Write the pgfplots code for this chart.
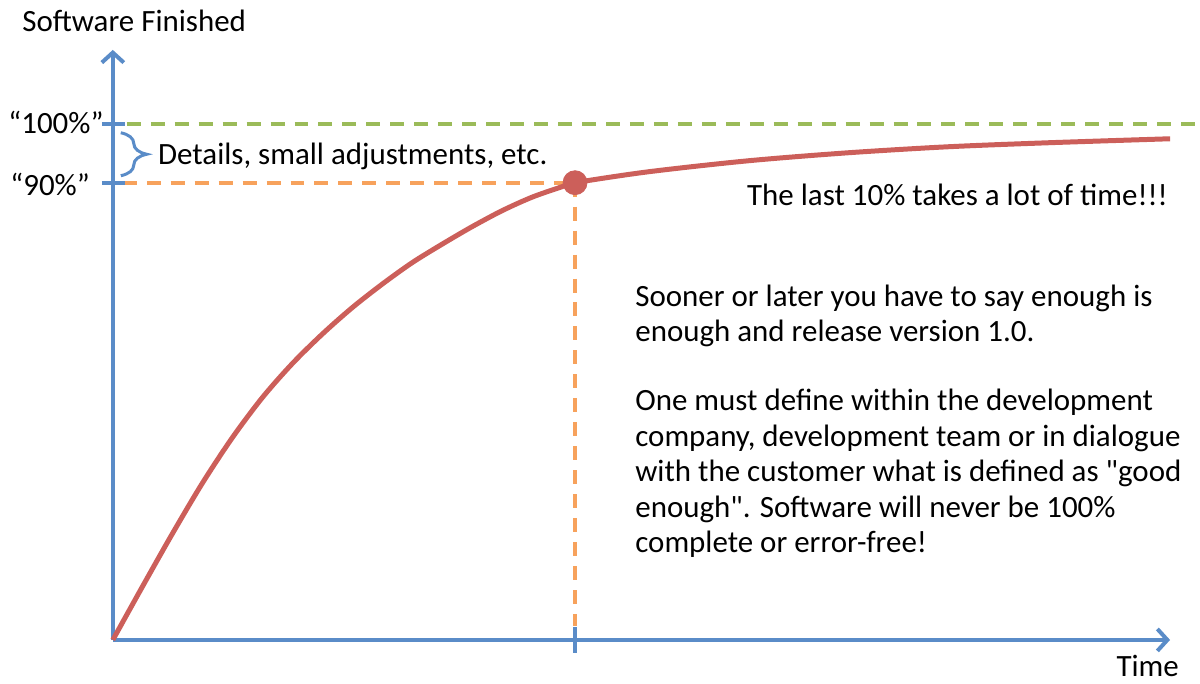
\documentclass[border=0pt]{standalone}
\usepackage{fontspec}
\setmainfont{Carlito}[Ligatures=TeXOff]
\usepackage{pgfplots}
\pgfplotsset{compat=1.18}
\usetikzlibrary{arrows.meta,decorations.pathreplacing}

\definecolor{axblue}{HTML}{5A8CC8}
\definecolor{curvered}{HTML}{CC5F5A}
\definecolor{dgreen}{HTML}{9BBB59}
\definecolor{dorange}{HTML}{F7A25C}

\begin{document}
\begin{tikzpicture}
  \begin{axis}[
    hide axis, scale only axis, clip=false,
    width=600pt, height=342.5pt,
    xmin=-113, xmax=1087, ymin=-44, ymax=641,
  ]
    % fix the page to the full frame
    \path (axis cs:-113,-44) rectangle (axis cs:1087,641);

    % guide lines
    \draw[dgreen, line width=2pt, dash pattern=on 7pt off 5pt] (axis cs:14,517) -- (axis cs:1087,517);
    \draw[dorange, line width=2pt, dash pattern=on 7pt off 5pt] (axis cs:10,458) -- (axis cs:463,458);
    \draw[dorange, line width=2pt, dash pattern=on 7pt off 5pt] (axis cs:463,458) -- (axis cs:463,14);

    % axes
    \draw[axblue, line width=2pt, -{Straight Barb[length=5pt, width=11pt, line width=2pt]}]
      (axis cs:0,0) -- (axis cs:0,591);
    \draw[axblue, line width=2pt, -{Straight Barb[length=5pt, width=11pt, line width=2pt]}]
      (axis cs:0,0) -- (axis cs:1059,0);
    \draw[axblue, line width=2pt] (axis cs:-11,517) -- (axis cs:12,517);
    \draw[axblue, line width=2pt] (axis cs:-11,458) -- (axis cs:12,458);
    \draw[axblue, line width=2pt] (axis cs:463,13) -- (axis cs:463,-13);

    % brace
    \draw[axblue, line width=1.5pt, decorate, decoration={brace, amplitude=13pt}]
      (axis cs:8,508) -- (axis cs:8,465);

    \addplot[curvered, line width=2.5pt, smooth] coordinates {
      (0,0) (30,54) (60,107) (90,157.5) (120,203) (150,243) (180,277)
      (210,306.5) (240,333) (270,356.5) (300,378) (330,396.5) (360,414)
      (390,430) (420,443.5) (450,454) (463,458)
      (537,469) (637,480) (737,488) (837,494) (937,498) (1059,502)
    };
    \addplot[only marks, mark=*, mark size=6pt, color=curvered] coordinates {(463,458)};

    \begin{scope}[every node/.style={inner sep=0pt, anchor=base west, font=\fontsize{15.5}{17.5}\selectfont}]
      \node at (axis cs:-91,609) {Software Finished};
      \node at (axis cs:-105,507) {“100\%”};
      \node at (axis cs:-103,445) {“90\%”};
      \node at (axis cs:45,476) {Details, small adjustments, etc.};
      \node at (axis cs:635,435) {The last 10\% takes a lot of time!!!};
      \node at (axis cs:523,334) {Sooner or later you have to say enough is};
      \node at (axis cs:523,299) {enough and release version 1.0.};
      \node at (axis cs:523,230) {One must define within the development};
      \node at (axis cs:523,194) {company, development team or in dialogue};
      \node at (axis cs:523,159) {with the customer what is defined as "good};
      \node at (axis cs:523,123) {enough". Software will never be 100\%};
      \node at (axis cs:523,88) {complete or error-free!};
      \node at (axis cs:1005,-37) {Time};
    \end{scope}
  \end{axis}
\end{tikzpicture}
\end{document}
